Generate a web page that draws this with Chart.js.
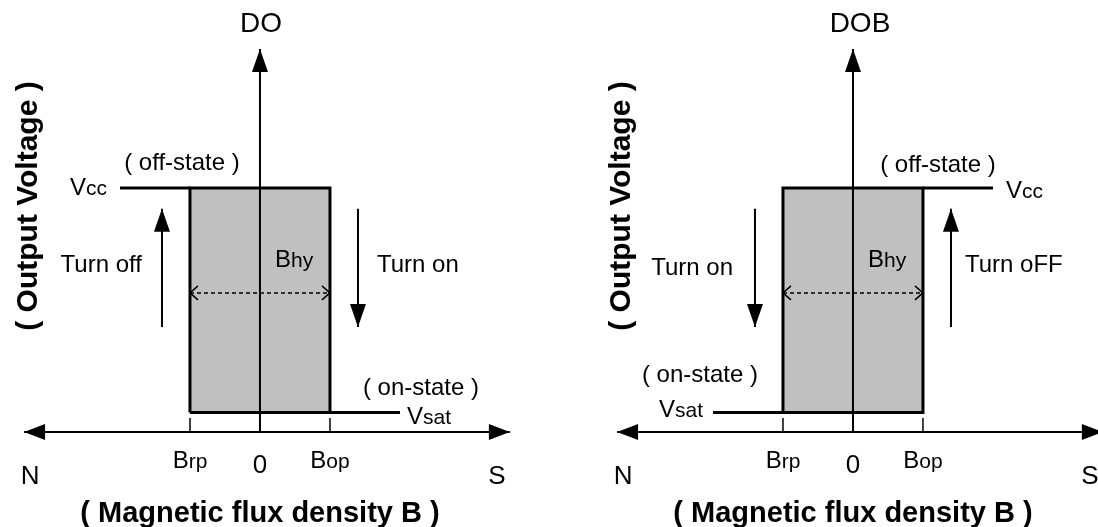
<!DOCTYPE html>
<html>
<head>
<meta charset="utf-8">
<script src="https://cdn.jsdelivr.net/npm/chart.js@4.4.0/dist/chart.umd.min.js"></script>
<style>
  html, body { margin: 0; padding: 0; background: #fff; overflow: hidden; }
  #wrap { position: relative; width: 1098px; height: 527px; overflow: hidden; }
  canvas { position: absolute; top: 0; }
  #left { left: 0; }
  #right { left: 593px; }
</style>
</head>
<body>
<div id="wrap">
  <canvas id="left" width="549" height="527"></canvas>
  <canvas id="right" width="549" height="527"></canvas>
</div>
<script>
// switching points on the B axis (relative units)
let bRelease = -1;   // Brp
let bOperate = 1;    // Bop
// output levels (relative units)
let vcc = 10;
let vsat = 0.8;
// flat output lines run this far out
let tailEnd = 2;

// axis lengths
let axisLeft = -3.37;
let axisRight = 3.57;
let axisTop = 15.7;
let tickHeight = 0.57;

// turn on / turn off arrows and the hysteresis span
let turnArrowX = 1.4;
let turnArrowLow = 4.3;
let turnArrowHigh = 9.15;
let hystLevel = 5.7;

// tick labels under the B axis
let tickValues = [bRelease, 0, bOperate];
let tickMain = ['B', '0', 'B'];
let tickSub = ['rp', '', 'op'];
let poles = ['N', 'S'];
let panelNames = ['DO', 'DOB'];
let stateNames = ['( off-state )', '( on-state )'];
let turnNames = ['Turn off', 'Turn on', 'Turn oFF'];
let xTitle = '( Magnetic flux density B )';
let yTitle = '( Output Voltage )';

const FONT = '"Liberation Sans", Arial, Helvetica, sans-serif';
const mid = (turnArrowLow + turnArrowHigh) / 2;

function head(ctx, a, b, len, half, open) {
  const ang = Math.atan2(b.y - a.y, b.x - a.x);
  ctx.save();
  ctx.translate(b.x, b.y);
  ctx.rotate(ang);
  ctx.beginPath();
  ctx.moveTo(-len, -half);
  ctx.lineTo(0, 0);
  ctx.lineTo(-len, half);
  if (open) {
    ctx.stroke();
  } else {
    ctx.closePath();
    ctx.fill();
  }
  ctx.restore();
}

function label(ctx, l, x, y) {
  const size = l.size || 24;
  const subSize = l.subSize || 21;
  const weight = l.bold ? 'bold ' : '';
  ctx.font = weight + size + 'px ' + FONT;
  const w1 = ctx.measureText(l.text).width;
  ctx.font = subSize + 'px ' + FONT;
  const w2 = l.sub ? ctx.measureText(l.sub).width : 0;
  ctx.save();
  ctx.translate(x, y);
  if (l.rotate) ctx.rotate(-Math.PI / 2);
  let start = 0;
  if (l.align === 'center') start = -(w1 + w2) / 2;
  if (l.align === 'right') start = -(w1 + w2);
  ctx.textAlign = 'left';
  ctx.textBaseline = 'alphabetic';
  ctx.font = weight + size + 'px ' + FONT;
  ctx.fillText(l.text, start, 0);
  if (l.sub) {
    ctx.font = subSize + 'px ' + FONT;
    ctx.fillText(l.sub, start + w1, 0);
  }
  ctx.restore();
}

// labels are kept in a closure so the option resolver never touches them
function makeSketch(labels) {
  return {
    id: 'sketch',
    afterDatasetsDraw(chart) {
      const ctx = chart.ctx;
      const xs = chart.scales.x;
      const ys = chart.scales.y;
      ctx.save();
      ctx.fillStyle = '#000';
      ctx.strokeStyle = '#000';
      chart.data.datasets.forEach((ds, i) => {
        if (!ds.heads) return;
        const pts = chart.getDatasetMeta(i).data;
        const n = pts.length;
        ctx.lineWidth = ds.borderWidth;
        ctx.setLineDash([]);
        if (ds.heads.end) head(ctx, pts[n - 2], pts[n - 1], ...ds.heads.end);
        if (ds.heads.start) head(ctx, pts[1], pts[0], ...ds.heads.start);
      });
      labels.forEach(l => {
        let x = l.dx;
        let y = l.dy;
        if (l.at) {
          x = xs.getPixelForValue(l.at[0]) + l.dx;
          y = ys.getPixelForValue(l.at[1]) + l.dy;
        }
        label(ctx, l, x, y);
      });
      ctx.restore();
    }
  };
}

function line(points, width, extra) {
  return Object.assign({
    data: points.map(p => ({ x: p[0], y: p[1] })),
    borderColor: '#000',
    borderWidth: width,
    fill: false,
    order: 1
  }, extra || {});
}

function commonLabels() {
  let out = [];
  tickValues.forEach((v, i) => {
    out.push({ text: tickMain[i], sub: tickSub[i], at: [v, 0], dx: 0,
      dy: tickSub[i] ? 36 : 41, align: 'center', size: tickSub[i] ? 24 : 26 });
  });
  out.push({ text: poles[0], at: [axisLeft, 0], dx: 6, dy: 52, align: 'center', size: 26 });
  out.push({ text: poles[1], at: [axisRight, 0], dx: -13, dy: 52, align: 'center', size: 26 });
  out.push({ text: xTitle, at: [0, 0], dx: 0, dy: 90, align: 'center', size: 29, bold: true });
  out.push({ text: yTitle, dx: 37, dy: 206, align: 'center', size: 30, bold: true, rotate: true });
  return out;
}

function makePanel(id, inverted) {
  let lowTail, highTail, leftArrow, rightArrow, labels;
  if (!inverted) {
    highTail = [[-tailEnd, vcc], [bRelease, vcc]];
    lowTail = [[bOperate, vsat], [tailEnd, vsat]];
    leftArrow = [[-turnArrowX, turnArrowLow], [-turnArrowX, turnArrowHigh]];
    rightArrow = [[turnArrowX, turnArrowHigh], [turnArrowX, turnArrowLow]];
    labels = [
      { text: panelNames[0], at: [0, axisTop], dx: 1, dy: -17, align: 'center', size: 28 },
      { text: 'V', sub: 'cc', at: [-tailEnd, vcc], dx: -13, dy: 7, align: 'right' },
      { text: stateNames[0], at: [bRelease, vcc], dx: -8, dy: -18, align: 'center' },
      { text: turnNames[0], at: [-turnArrowX, mid], dx: -20, dy: 4, align: 'right' },
      { text: turnNames[1], at: [turnArrowX, mid], dx: 19, dy: 4, align: 'left' },
      { text: 'B', sub: 'hy', at: [0, hystLevel], dx: 15, dy: -26, align: 'left' },
      { text: stateNames[1], at: [tailEnd, vsat], dx: 21, dy: -17, align: 'center' },
      { text: 'V', sub: 'sat', at: [tailEnd, vsat], dx: 7, dy: 12, align: 'left' }
    ];
  } else {
    lowTail = [[-tailEnd, vsat], [bRelease, vsat]];
    highTail = [[bOperate, vcc], [tailEnd, vcc]];
    leftArrow = [[-turnArrowX, turnArrowHigh], [-turnArrowX, turnArrowLow]];
    rightArrow = [[turnArrowX, turnArrowLow], [turnArrowX, turnArrowHigh]];
    labels = [
      { text: panelNames[1], at: [0, axisTop], dx: 7, dy: -17, align: 'center', size: 28 },
      { text: 'V', sub: 'cc', at: [tailEnd, vcc], dx: 13, dy: 10, align: 'left' },
      { text: stateNames[0], at: [bOperate, vcc], dx: 15, dy: -16, align: 'center' },
      { text: turnNames[1], at: [-turnArrowX, mid], dx: -22, dy: 7, align: 'right' },
      { text: turnNames[2], at: [turnArrowX, mid], dx: 14, dy: 4, align: 'left' },
      { text: 'B', sub: 'hy', at: [0, hystLevel], dx: 15, dy: -26, align: 'left' },
      { text: stateNames[1], at: [-tailEnd, vsat], dx: -13, dy: -30, align: 'center' },
      { text: 'V', sub: 'sat', at: [-tailEnd, vsat], dx: -10, dy: 5, align: 'right' }
    ];
  }

  const box = [[bRelease, vsat], [bRelease, vcc], [bOperate, vcc], [bOperate, vsat], [bRelease, vsat]];

  const datasets = [
    line([[bRelease, hystLevel], [bOperate, hystLevel]], 1.5,
      { borderDash: [4, 3], order: 0, heads: { start: [8, 7, true], end: [8, 7, true] } }),
    line([[0, 0], [0, axisTop]], 2, { heads: { end: [23, 8, false] } }),
    line([[axisLeft, 0], [axisRight, 0]], 2, { heads: { start: [21, 8, false], end: [21, 8, false] } }),
    line([[bRelease, 0], [bRelease, tickHeight]], 1.5),
    line([[bOperate, 0], [bOperate, tickHeight]], 1.5),
    line(leftArrow, 2, { heads: { end: [23, 8, false] } }),
    line(rightArrow, 2, { heads: { end: [23, 8, false] } }),
    line(highTail, 3),
    line(lowTail, 3),
    line(box, 3, { fill: 'shape', backgroundColor: '#c0c0c0', order: 5, borderJoinStyle: 'miter' })
  ];

  return new Chart(document.getElementById(id), {
    type: 'line',
    data: { datasets: datasets },
    options: {
      responsive: false,
      animation: false,
      devicePixelRatio: 1,
      events: [],
      layout: { padding: 0 },
      elements: { point: { radius: 0 }, line: { tension: 0 } },
      scales: {
        x: { type: 'linear', min: -3.714, max: 4.129, display: false },
        y: { type: 'linear', min: -3.893, max: 17.705, display: false }
      },
      plugins: {
        legend: { display: false },
        tooltip: { enabled: false }
      }
    },
    plugins: [makeSketch(labels.concat(commonLabels()))]
  });
}

makePanel('left', false);
makePanel('right', true);
</script>
</body>
</html>
